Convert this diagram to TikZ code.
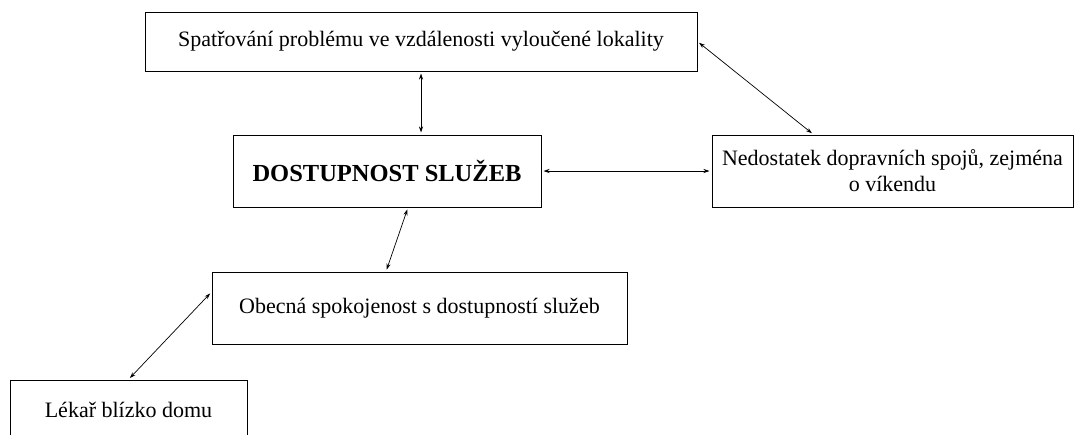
\documentclass[tikz,border=0pt]{standalone}
\usepackage{fontspec}
\setmainfont{Liberation Serif}
\usepackage{tikz}
\usetikzlibrary{arrows.meta}

\begin{document}
\begin{tikzpicture}
  [x=1pt,y=-1pt,every node/.style={draw,rectangle,line width=1pt,inner sep=0pt,align=center,font=\fontsize{22}{26}\selectfont},
   link/.style={{Stealth[length=6pt,width=4pt]}-{Stealth[length=6pt,width=4pt]},line width=0.7pt,shorten <=2pt,shorten >=2pt}]
  \useasboundingbox (0,0) rectangle (1074,434);
  \node[minimum width=552pt,minimum height=59pt] (spat) at (421,41.5) {Spatřování problému ve vzdálenosti vyloučené lokality};
  \node[minimum width=308pt,minimum height=72pt,font=\fontsize{24.5}{29}\selectfont\bfseries] (dost) at (387,171) {DOSTUPNOST SLUŽEB};
  \node[minimum width=361pt,minimum height=72pt] (ned) at (892.5,171) {Nedostatek dopravních spojů, zejména\\o víkendu};
  \node[minimum width=415pt,minimum height=72pt] (obec) at (419.5,308) {Obecná spokojenost s dostupností služeb};
  \node[minimum width=237pt,minimum height=60pt] (lekar) at (128.5,410) {Lékař blízko domu};

  \draw[link] (spat.south) -- (spat.south |- dost.north);
  \draw[link] (spat.east) -- ([xshift=-79pt]ned.north);
  \draw[link] (dost.east) -- (ned.west);
  \draw[link] ([xshift=21pt]dost.south) -- ([xshift=-33.5pt]obec.north);
  \draw[link] ([yshift=16pt]obec.west) -- (lekar.north);
\end{tikzpicture}
\end{document}
